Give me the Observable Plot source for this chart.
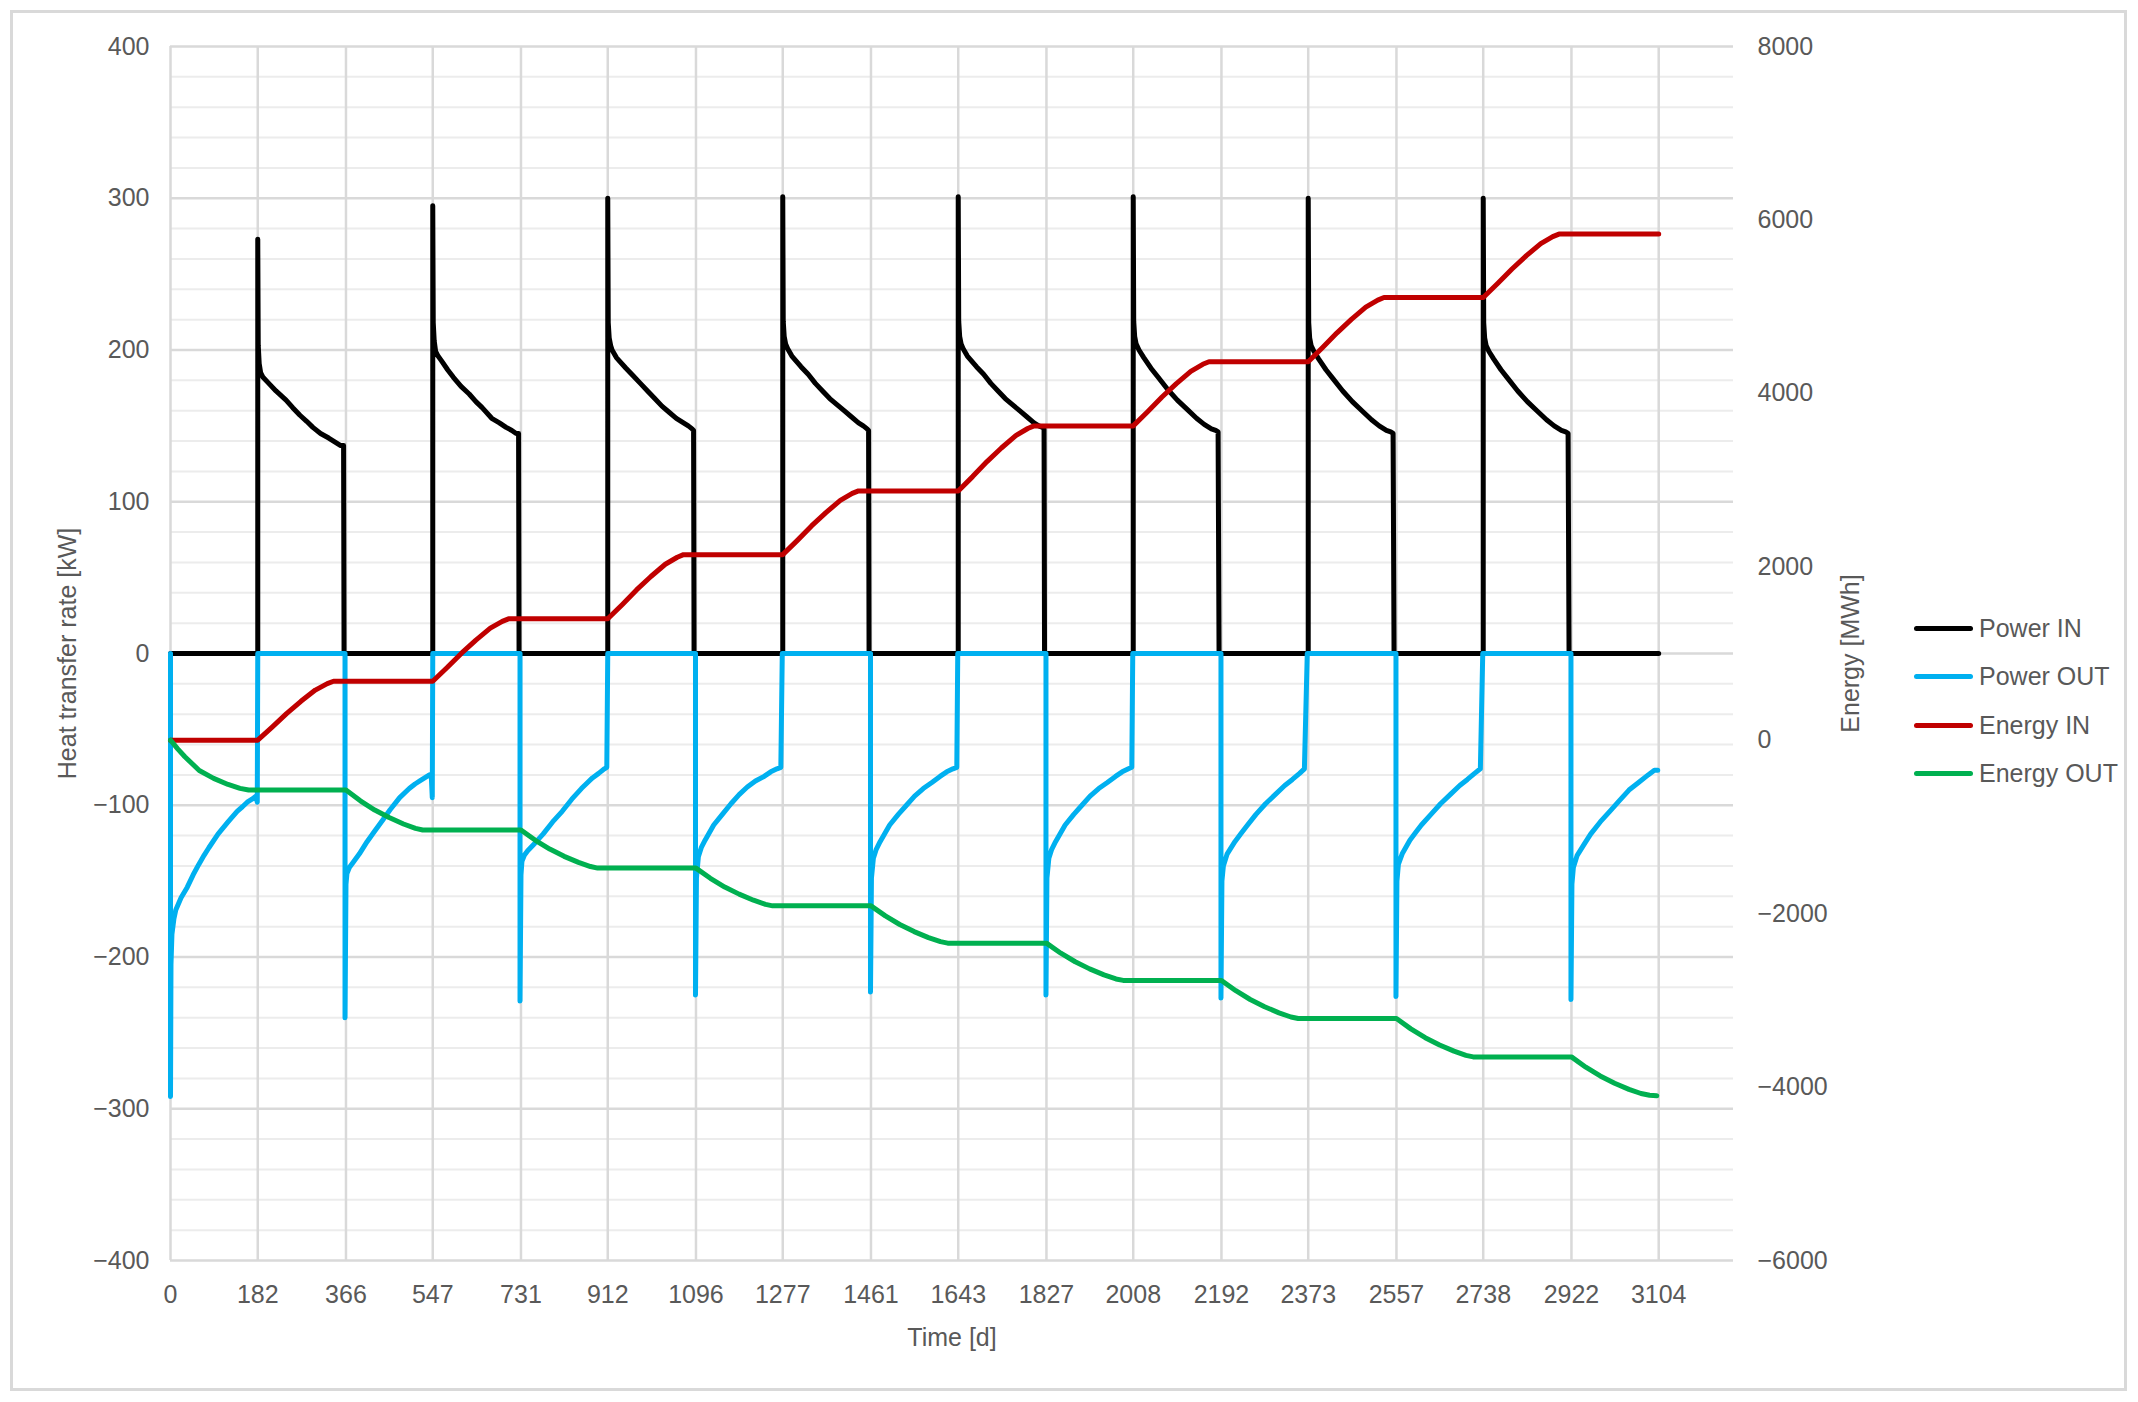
<!DOCTYPE html>
<html>
<head>
<meta charset="utf-8">
<script src="https://cdn.jsdelivr.net/npm/d3@7"></script>
<script src="https://cdn.jsdelivr.net/npm/@observablehq/plot@0.6"></script>
<style>
  html, body { margin: 0; padding: 0; background: #ffffff; }
  #wrap { position: relative; width: 2138px; height: 1402px; font-family: "Liberation Sans", Arial, sans-serif; }
  #frame { position: absolute; left: 10px; top: 10px; width: 2117px; height: 1381px; border: 3px solid #d9d9d9; box-sizing: border-box; pointer-events: none; }
  #chart { position: absolute; left: 0; top: 0; }
  #legend { position: absolute; left: 1914px; top: 604px; }
  .row { display: flex; align-items: center; height: 48.5px; }
  .sw { width: 59px; height: 5px; border-radius: 3px; margin-right: 6px; }
  .lab { font-size: 25px; color: #595959; white-space: nowrap; }
</style>
</head>
<body>
<div id="wrap">
  <div id="chart"></div>
  <div id="legend"></div>
  <div id="frame"></div>
</div>
<script>
// ---------- data ----------
const xTicks = [0, 182, 366, 547, 731, 912, 1096, 1277, 1461, 1643, 1827, 2008, 2192, 2373, 2557, 2738, 2922, 3104];
const kwTicks = [-400, -300, -200, -100, 0, 100, 200, 300, 400];
const kwMinorTicks = [-380, -360, -340, -320, -280, -260, -240, -220, -180, -160, -140, -120, -80, -60, -40, -20,
                      20, 40, 60, 80, 120, 140, 160, 180, 220, 240, 260, 280, 320, 340, 360, 380];
const energyTicks = [-6000, -4000, -2000, 0, 2000, 4000, 6000, 8000];

const seriesNames = ["Power IN", "Power OUT", "Energy IN", "Energy OUT"];
const seriesColors = ["#000000", "#00b0f0", "#c00000", "#00b050"];

// Power IN [kW] : [day, value]
const powerIn = [
  [0,0],[182,0],
  [182,273],[183,203],[185,191],[188,185],[193,182],[205,178],[220,173],[241,167],[255,162],[270,157],[284,153],[297,149],[313,145],[330,142],[345,139],[355,137],[361,137],[362,0],
  [547,0],[547,295],[548,218],[550,206],[553,199],[558,196],[565,193],[578,187],[590,182],[606,176],[623,171],[637,166],[650,162],[670,155],[686,152],[700,149],[712,147],[721,145],[726,145],[727,0],
  [912,0],[912,300],[913,218],[915,208],[918,203],[921,200],[930,195],[950,188],[965,183],[980,178],[995,173],[1010,168],[1025,163],[1040,159],[1055,155],[1070,152],[1080,150],[1088,148],[1091,147],[1092,0],
  [1277,0],[1277,301],[1278,219],[1280,209],[1283,204],[1287,201],[1296,196],[1315,189],[1330,184],[1345,178],[1360,173],[1375,168],[1390,164],[1405,160],[1420,156],[1435,152],[1445,150],[1453,148],[1456,147],[1457,0],
  [1643,0],[1643,301],[1644,219],[1646,209],[1649,204],[1653,201],[1662,196],[1681,189],[1696,184],[1711,178],[1726,173],[1741,168],[1756,164],[1771,160],[1786,156],[1801,152],[1811,150],[1819,149],[1822,148],[1823,0],
  [2008,0],[2008,301],[2009,219],[2011,209],[2014,204],[2020,200],[2030,195],[2045,188],[2060,182],[2080,174],[2100,167],[2120,161],[2140,155],[2156,151],[2171,148],[2180,147],[2185,146],[2187,0],
  [2373,0],[2373,300],[2374,218],[2376,208],[2379,203],[2385,199],[2395,194],[2410,187],[2425,181],[2445,173],[2465,166],[2485,160],[2505,154],[2521,150],[2536,147],[2545,146],[2550,145],[2552,0],
  [2738,0],[2738,300],[2739,218],[2741,208],[2744,203],[2750,199],[2760,194],[2775,187],[2790,181],[2810,173],[2830,166],[2850,160],[2870,154],[2886,150],[2901,147],[2910,146],[2915,145],[2917,0],
  [3104,0]
];

// Power OUT [kW] : [day, value]
const powerOut = [
  [0,0],[0,-292],[1,-205],[3,-185],[7,-175],[11,-169],[22,-161],[35,-154],[47,-146],[59,-139],[70,-133],[80,-128],[99,-119],[120,-111],[139,-104],[150,-101],[160,-98],[170,-96],[178,-94],[181,-98],[182,0],
  [364,0],[364,-240],[366,-152],[368,-145],[373,-141],[380,-138],[394,-132],[410,-124],[426,-117],[442,-110],[458,-103],[478,-95],[498,-89],[510,-86],[520,-84],[530,-82],[540,-80],[544,-81],[546,-95],[547,0],
  [729,0],[729,-229],[731,-146],[733,-137],[738,-133],[745,-130],[760,-125],[777,-119],[797,-111],[817,-104],[837,-96],[857,-89],[870,-85],[880,-82],[893,-79],[905,-76],[910,-75],[912,0],
  [1095,0],[1095,-225],[1097,-148],[1101,-134],[1107,-128],[1115,-123],[1133,-113],[1151,-106],[1169,-99],[1186,-93],[1203,-88],[1220,-84],[1238,-81],[1252,-78],[1265,-76],[1273,-75],[1276,0],
  [1460,0],[1460,-223],[1462,-148],[1466,-135],[1472,-129],[1480,-124],[1500,-113],[1518,-106],[1535,-100],[1552,-94],[1570,-89],[1588,-85],[1605,-81],[1619,-78],[1632,-76],[1640,-75],[1642,0],
  [1826,0],[1826,-225],[1828,-148],[1832,-135],[1838,-129],[1846,-124],[1866,-113],[1884,-106],[1901,-100],[1918,-94],[1936,-89],[1954,-85],[1971,-81],[1985,-78],[1998,-76],[2005,-75],[2007,0],
  [2191,0],[2191,-227],[2193,-150],[2196,-140],[2204,-132],[2220,-124],[2232,-119],[2244,-114],[2264,-106],[2284,-99],[2304,-93],[2324,-87],[2340,-83],[2355,-79],[2365,-76],[2371,0],
  [2556,0],[2556,-226],[2558,-150],[2561,-139],[2569,-132],[2585,-123],[2597,-118],[2609,-113],[2629,-106],[2649,-99],[2669,-93],[2689,-87],[2705,-83],[2720,-79],[2732,-76],[2737,0],
  [2921,0],[2921,-228],[2923,-152],[2926,-141],[2934,-133],[2948,-126],[2962,-119],[2982,-111],[3002,-104],[3022,-97],[3042,-90],[3062,-85],[3082,-80],[3095,-77],[3102,-77]
];

// Energy IN [MWh] : [day, value]
const energyIn = [
  [0,0],[182,0],[212,150],[242,306],[272,449],[302,578],[327,653],[340,680],
  [547,680],[577,838],[607,1004],[637,1155],[667,1292],[692,1371],[705,1400],
  [912,1400],[942,1563],[972,1733],[1002,1888],[1032,2029],[1057,2110],[1070,2140],
  [1277,2140],[1307,2302],[1337,2471],[1367,2625],[1397,2765],[1422,2846],[1435,2875],
  [1643,2875],[1673,3040],[1703,3213],[1733,3370],[1763,3513],[1788,3595],[1801,3625],
  [2008,3625],[2038,3788],[2068,3958],[2098,4113],[2128,4254],[2153,4335],[2166,4365],
  [2373,4365],[2403,4528],[2433,4698],[2463,4853],[2493,4994],[2518,5075],[2531,5105],
  [2738,5105],[2768,5266],[2798,5434],[2828,5588],[2858,5727],[2883,5808],[2896,5837],
  [3104,5837]
];

// Energy OUT [MWh] : [day, value]
const energyOut = [
  [0,0],[15,-100],[30,-190],[60,-350],[90,-440],[120,-510],[145,-555],[163,-575],
  [366,-575],[396,-699],[426,-805],[456,-892],[486,-966],[511,-1017],[526,-1035],
  [731,-1035],[761,-1154],[791,-1255],[821,-1339],[851,-1409],[876,-1457],[891,-1475],
  [1096,-1475],[1126,-1592],[1156,-1693],[1186,-1775],[1216,-1845],[1241,-1893],[1256,-1910],
  [1461,-1910],[1491,-2026],[1521,-2125],[1551,-2207],[1581,-2276],[1606,-2323],[1621,-2340],
  [1827,-2340],[1857,-2456],[1887,-2555],[1917,-2637],[1947,-2706],[1972,-2753],[1987,-2770],
  [2192,-2770],[2222,-2889],[2252,-2990],[2282,-3074],[2312,-3144],[2337,-3192],[2352,-3210],
  [2557,-3210],[2587,-3329],[2617,-3431],[2647,-3515],[2677,-3586],[2702,-3634],[2717,-3652],
  [2922,-3652],[2952,-3771],[2982,-3872],[3012,-3956],[3042,-4026],[3067,-4074],[3085,-4095],[3100,-4100]
];

// ---------- secondary axis mapping (MWh -6000..8000 onto kW -400..400) ----------
const toKW = e => (e + 6000) * 800 / 14000 - 400;
const fromKW = k => (k + 400) * 14000 / 800 - 6000;
const fmt = d3.format("d");

const rows = (arr, conv) => arr.map(([day, v]) => ({day, value: conv ? conv(v) : v}));

const chart = Plot.plot({
  width: 2138,
  height: 1402,
  marginLeft: 170,
  marginRight: 405,
  marginTop: 46,
  marginBottom: 142,
  style: {fontFamily: "'Liberation Sans', Arial, sans-serif", fontSize: "25px", color: "#595959", background: "transparent", overflow: "visible"},
  x: {domain: [0, 3260]},
  y: {domain: [-400, 400]},
  marks: [
    Plot.gridY(kwMinorTicks, {stroke: "#ececec", strokeOpacity: 1, strokeWidth: 2}),
    Plot.gridY(kwTicks, {stroke: "#d9d9d9", strokeOpacity: 1, strokeWidth: 2.5}),
    Plot.gridX(xTicks, {stroke: "#d9d9d9", strokeOpacity: 1, strokeWidth: 2.5}),
    Plot.axisX(xTicks, {tickSize: 0, tickPadding: 25, fontSize: 25, tickFormat: fmt,
      label: "Time [d]", labelAnchor: "center", labelArrow: "none", labelOffset: 85}),
    Plot.axisY(kwTicks, {anchor: "left", tickSize: 0, tickPadding: 21, fontSize: 25, tickFormat: fmt,
      label: "Heat transfer rate [kW]", labelAnchor: "center", labelArrow: "none", labelOffset: 112}),
    Plot.axisY(energyTicks.map(toKW), {anchor: "right", tickSize: 0, tickPadding: 24, fontSize: 25,
      tickFormat: d => fmt(Math.round(fromKW(d))),
      label: "Energy [MWh]", labelAnchor: "center", labelArrow: "none", labelOffset: 125}),
    Plot.line(rows(powerIn), {x: "day", y: "value", stroke: seriesColors[0], strokeWidth: 5}),
    Plot.line(rows(powerOut), {x: "day", y: "value", stroke: seriesColors[1], strokeWidth: 5}),
    Plot.line(rows(energyIn, toKW), {x: "day", y: "value", stroke: seriesColors[2], strokeWidth: 5}),
    Plot.line(rows(energyOut, toKW), {x: "day", y: "value", stroke: seriesColors[3], strokeWidth: 5})
  ]
});
document.getElementById("chart").appendChild(chart);

const legend = document.getElementById("legend");
seriesNames.forEach((name, i) => {
  const row = document.createElement("div");
  row.className = "row";
  const sw = document.createElement("div");
  sw.className = "sw";
  sw.style.background = seriesColors[i];
  const lab = document.createElement("span");
  lab.className = "lab";
  lab.textContent = name;
  row.appendChild(sw);
  row.appendChild(lab);
  legend.appendChild(row);
});
</script>
</body>
</html>
